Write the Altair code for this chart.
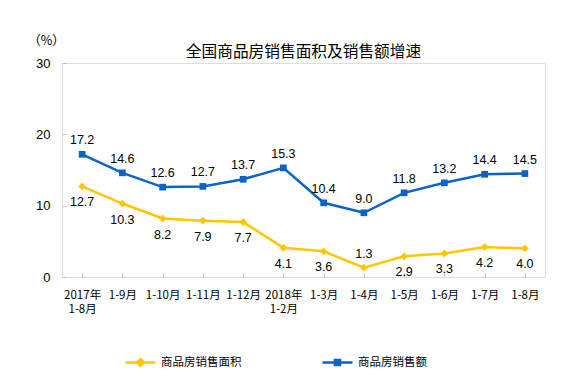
import altair as alt
import pandas as pd

categories = ["2017年\n1-8月", "1-9月", "1-10月", "1-11月", "1-12月", "2018年\n1-2月",
              "1-3月", "1-4月", "1-5月", "1-6月", "1-7月", "1-8月"]
area_growth = [12.7, 10.3, 8.2, 7.9, 7.7, 4.1, 3.6, 1.3, 2.9, 3.3, 4.2, 4.0]
amount_growth = [17.2, 14.6, 12.6, 12.7, 13.7, 15.3, 10.4, 9.0, 11.8, 13.2, 14.4, 14.5]
series_names = ["商品房销售面积", "商品房销售额"]
y_ticks = [0, 10, 20, 30]

YELLOW = "#FFC600"
BLUE = "#0C62C6"
FONT = "Noto Sans CJK SC"
NUMFONT = "Liberation Sans"

rows = []
for c, a, b in zip(categories, area_growth, amount_growth):
    rows.append({"cat": c, "series": series_names[0], "value": a})
    rows.append({"cat": c, "series": series_names[1], "value": b})
df = pd.DataFrame(rows)

x_enc = alt.X("cat:N", sort=categories, scale=alt.Scale(paddingInner=0, paddingOuter=0),
              axis=alt.Axis(title=None, labelAngle=0, domain=False, bandPosition=0,
                            tickSize=4, tickColor="#BFBFBF", offset=-4, labelPadding=12,
                            labelFont=FONT, labelFontSize=11.5, labelColor="#000",
                            labelExpr="split(datum.label, '\\n')", labelLineHeight=14.5,
                            labelBaseline="top"))
y_enc = alt.Y("value:Q", scale=alt.Scale(domain=[0, 30], nice=False),
              axis=alt.Axis(values=y_ticks, title="（%）", titleAngle=0, titleX=-20, titleY=-23,
                            titleAlign="center", titleBaseline="middle", titleFont=FONT,
                            titleFontSize=12.5, titleFontWeight="normal", titleColor="#000",
                            domain=False, grid=False, tickSize=4, tickColor="#BFBFBF",
                            offset=-4, labelPadding=12, labelFont=NUMFONT, labelFontSize=13,
                            labelColor="#000"))

base = alt.Chart(df).encode(x=x_enc, y=y_enc)


def series_layer(name, color, shape, legend_path, legend_x, dy, point_size, flip_below=None):
    sub = base.transform_filter(alt.datum.series == name)
    color_enc = alt.Color("series:N",
                          scale=alt.Scale(domain=[name], range=[color]),
                          legend=alt.Legend(title=None, orient="none", legendX=legend_x,
                                            legendY=283, symbolType=legend_path,
                                            symbolSize=900, symbolStrokeWidth=2.5,
                                            symbolFillColor=color, symbolStrokeColor=color,
                                            labelFont=FONT, labelFontSize=11.5,
                                            labelColor="#000", labelOffset=4, padding=0))
    line = sub.mark_line(strokeWidth=2.5).encode(color=color_enc)
    pts = sub.mark_point(shape=shape, filled=True, size=point_size, opacity=1).encode(color=color_enc)
    if flip_below is None:
        txt = sub.mark_text(dy=dy, font=NUMFONT, fontSize=12.5, color="#000").encode(
            text=alt.Text("value:Q", format=".1f"))
        return alt.layer(line, pts, txt)
    txt = sub.transform_filter(alt.datum.value >= flip_below).mark_text(
        dy=dy, font=NUMFONT, fontSize=12.5, color="#000").encode(
        text=alt.Text("value:Q", format=".1f"))
    txt2 = sub.transform_filter(alt.datum.value < flip_below).mark_text(
        dy=-14, font=NUMFONT, fontSize=12.5, color="#000").encode(
        text=alt.Text("value:Q", format=".1f"))
    return alt.layer(line, pts, txt, txt2)


diamond_path = "M-1,0H1M0,-0.22L0.22,0L0,0.22L-0.22,0Z"
square_path = "M-1,0H1M-0.17,-0.17H0.17V0.17H-0.17Z"

layer_area = series_layer(series_names[0], YELLOW, "diamond", diamond_path, 62, 16, 60, flip_below=2)
layer_amount = series_layer(series_names[1], BLUE, "square", square_path, 259, -14, 45)

chart = alt.layer(layer_area, layer_amount).resolve_scale(color="independent").properties(
    width=483, height=214,
    title=alt.TitleParams("全国商品房销售面积及销售额增速", anchor="middle", font=FONT,
                          fontSize=15.7, fontWeight="normal", color="#000", offset=-27),
    autosize=alt.AutoSizeParams(type="none"),
    padding={"left": 54, "top": 55, "right": 25, "bottom": 104},
).configure_view(stroke="#BFBFBF", strokeWidth=1).configure(background="white")

chart.save("out.html", embed_options={"renderer": "svg", "actions": False})
